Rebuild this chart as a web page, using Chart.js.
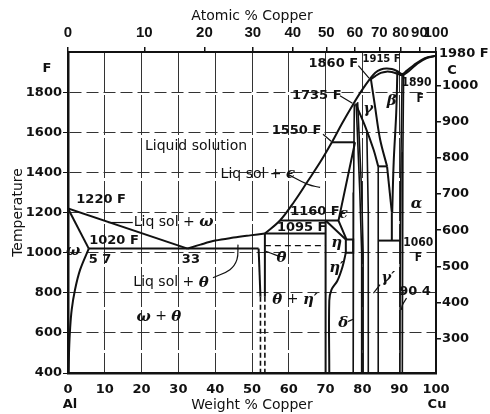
<!DOCTYPE html>
<html>
<head>
<meta charset="utf-8">
<script src="https://cdn.jsdelivr.net/npm/chart.js@4.4.0/dist/chart.umd.min.js"></script>
<style>
  html, body { margin: 0; padding: 0; background: #fff; }
  #wrap { width: 490px; height: 414px; }
</style>
</head>
<body>
<div id="wrap"><canvas id="chart" width="490" height="414"></canvas></div>
<script>
// axis ticks
const weightTicks = [0, 10, 20, 30, 40, 50, 60, 70, 80, 90, 100];
const fahrenheitTicks = [400, 600, 800, 1000, 1200, 1400, 1600, 1800];
const celsiusTicks = [300, 400, 500, 600, 700, 800, 900, 1000];
const atomicTicks = [0, 10, 20, 30, 40, 50, 60, 70, 80, 90, 100];

// phase boundaries, points are [weight % Cu, deg F]
const liquidusAl = [[0, 1220], [32.5, 1020]];
const solidusAl = [[0, 1220], [5.65, 1020]];
const solvusAl = [[5.65, 1020], [3.3, 915], [1.9, 815], [1.0, 715], [0.55, 615], [0.3, 515], [0.15, 400]];
const eutectic1020 = [[5.65, 1020], [51.8, 1020]];
const liquidusTheta = [[32.5, 1020], [36, 1040], [40, 1060], [45, 1075], [49.5, 1086], [53.5, 1095]];
const liquidusCu = [[53.5, 1095], [57.6, 1160], [61.5, 1255], [65, 1352], [68.5, 1450], [71.7, 1550], [74.5, 1645],
  [77.5, 1740], [79.7, 1805], [82, 1865], [83.5, 1897], [85, 1913], [86.5, 1918], [88, 1915], [89.5, 1904],
  [90.8, 1890], [92, 1906], [94, 1935], [96, 1960], [98, 1975], [100, 1981]];
const solidusCu = [[82, 1860], [83.5, 1880], [85, 1896], [86.5, 1902], [88, 1900], [89.5, 1892], [90.8, 1884],
  [92.5, 1903], [95, 1943], [97.5, 1970], [100, 1981]];
const thetaLeft = [[51.8, 1020], [52.3, 780]];
const thetaRight = [[53.5, 1095], [53.5, 780]];
const thetaLeftLow = [[52.3, 780], [52.3, 400]];
const thetaRightLow = [[53.5, 780], [53.5, 400]];
const dashed1035 = [[53.5, 1035], [70, 1035]];
const peritectic1095 = [[53.5, 1095], [70, 1095]];
const peritectic1160 = [[57.6, 1160], [73.5, 1160]];
const etaLeft = [[70, 1160], [70, 400]];
const etaDiag = [[70, 1160], [75.5, 1065]];
const etaPrime = [[75.5, 1000], [74.6, 930], [73.2, 860], [71.6, 815], [71, 760], [71, 400]];
const zetaBox = [[75.5, 1065], [77.5, 1065], [77.5, 1000], [75.5, 1000], [75.5, 1065]];
const peritectic1550 = [[71.7, 1550], [78, 1550]];
const epsLeft = [[78, 1550], [73.5, 1160], [75.7, 1065]];
const deltaLeft = [[77.8, 1740], [77.6, 1300], [77.5, 1065], [77.5, 400]];
const gamma2Left = [[78.3, 1745], [79.3, 1300], [79.8, 1000], [79.8, 400]];
const gamma2Right = [[78.7, 1750], [79.8, 1300], [80.2, 1000], [80.2, 400]];
const gammaInner = [[81.2, 1600], [81.6, 1200], [81.6, 400]];
const gammaSlant = [[78.2, 1740], [80.7, 1632], [83, 1515], [84.3, 1430]];
const gammaRight = [[82.3, 1866], [83.4, 1732], [84.8, 1565], [86.7, 1430]];
const eutectoid1430 = [[84.3, 1430], [86.7, 1430]];
const gammaPrimeLeft = [[84.3, 1430], [84.3, 1060], [84.3, 400]];
const betaLeft = [[86.7, 1430], [88, 1200]];
const betaRight = [[89.5, 1904], [89.2, 1700], [88.5, 1450], [88.1, 1200]];
const betaStem = [[88, 1200], [88, 1060]];
const eutectoid1060 = [[84.3, 1060], [90.5, 1060]];
const alphaLeft = [[90.8, 1888], [90.5, 1500], [90.3, 1060], [90.2, 400]];
const alphaRight = [[91.2, 1892], [91, 1500], [90.9, 1060], [90.8, 400]];

// pointer lines
const leaderEps = [[59.8, 1390], [65.2, 1340], [68.5, 1325]];
const leaderOmega = [[10.9, 1150], [17.6, 1150]];
const leaderLiqTheta = [[39.4, 875], [44, 915], [45.9, 965], [46.2, 1040]];
const leaderTheta = [[57.3, 982], [55, 998], [53.7, 1007]];
const leaderDelta = [[76.1, 657], [77.5, 668]];
const leaderGammaP = [[84.8, 840], [83, 798]];
const leader904 = [[92, 773], [90.9, 740], [90.6, 715]];
const leader1550 = [[69.3, 1590], [71.5, 1555]];
const leader1735 = [[73.9, 1782], [77.3, 1745]];
const leader1860 = [[78.9, 1932], [81.8, 1870]];

// labels inside the plot: [text, weight %, deg F, style]
const notes = [
  ['Liquid solution', 34.8, 1530, 'txt'],
  ['Liq sol + ϵ', 51.6, 1390, 'txt'],
  ['1220 F', 9.0, 1265, 'num'],
  ['Liq sol + ω', 28.7, 1150, 'txt'],
  ['1020 F', 12.5, 1058, 'num'],
  ['5 7', 8.7, 965, 'num'],
  ['ω', 1.4, 1010, 'txt'],
  ['33', 33.4, 965, 'num'],
  ['Liq sol + θ', 28, 850, 'txt'],
  ['ω + θ', 24.7, 680, 'txt'],
  ['θ', 58, 973, 'txt'],
  ['θ + η′', 61.7, 765, 'txt'],
  ['η', 73, 1048, 'txt'],
  ['η′', 73, 923, 'txt'],
  ['δ', 74.8, 648, 'txt'],
  ['γ′', 87, 875, 'txt'],
  ['90 4', 94.3, 806, 'num'],
  ['1060', 95.2, 1048, 'small'],
  ['F', 95.2, 973, 'small'],
  ['α', 94.7, 1240, 'txt'],
  ['1160 F', 67.1, 1206, 'num'],
  ['1095 F', 63.5, 1123, 'num'],
  ['ϵ', 74.8, 1190, 'txt'],
  ['1550 F', 62.1, 1607, 'num'],
  ['1735 F', 67.6, 1785, 'num'],
  ['1860 F', 72.1, 1940, 'num'],
  ['1915 F', 85.2, 1965, 'tiny'],
  ['γ', 81.6, 1715, 'txt'],
  ['β', 88, 1757, 'txt'],
  ['1890', 94.7, 1848, 'small'],
  ['F', 95.7, 1765, 'small']
];

function atomicToWeight(a) {
  return 100 * a * 63.55 / (a * 63.55 + (100 - a) * 26.98);
}

const fonts = {
  txt: '14px "DejaVu Sans"',
  num: 'bold 13px "DejaVu Sans"',
  small: 'bold 12px "DejaVu Sans Condensed", "DejaVu Sans"',
  tiny: 'bold 10px "DejaVu Sans"',
  greek: 'italic bold 15px "DejaVu Serif"'
};
const greekChars = 'ωθηδγβαϵ′';

function drawRich(ctx, str, px, py, style) {
  const runs = [];
  for (const ch of str) {
    const f = greekChars.includes(ch) ? fonts.greek : fonts[style];
    if (runs.length && runs[runs.length - 1].f === f) runs[runs.length - 1].s += ch;
    else runs.push({ s: ch, f: f });
  }
  let total = 0;
  runs.forEach(r => { ctx.font = r.f; r.w = ctx.measureText(r.s).width; total += r.w; });
  let cx = px - total / 2;
  ctx.textAlign = 'left';
  runs.forEach(r => { ctx.font = r.f; ctx.fillText(r.s, cx, py); cx += r.w; });
}

function line(data, opts) {
  return Object.assign({
    data: data.map(p => ({ x: p[0], y: p[1] })),
    borderColor: '#111',
    borderWidth: 2,
    pointRadius: 0,
    tension: 0,
    fill: false
  }, opts || {});
}

const curve = { tension: 0.35 };
const thin = { borderWidth: 1.2, tension: 0.4 };
const dashed = { borderDash: [5, 3], borderWidth: 1.6 };

const textPlugin = {
  id: 'texts',
  afterDraw(chart) {
    const { ctx, chartArea: a, scales: { x, y } } = chart;
    ctx.save();
    ctx.fillStyle = '#111';
    ctx.textBaseline = 'middle';
    notes.forEach(n => drawRich(ctx, n[0], x.getPixelForValue(n[1]), y.getPixelForValue(n[2]), n[3]));

    ctx.font = '14px "DejaVu Sans"';
    ctx.textAlign = 'center';
    ctx.fillText('Atomic % Copper', (a.left + a.right) / 2, 16);
    ctx.fillText('Weight % Copper', (a.left + a.right) / 2, 405);
    ctx.font = 'bold 13px "DejaVu Sans"';
    ctx.fillText('Al', a.left + 2, 405);
    ctx.fillText('Cu', a.right + 1, 405);
    ctx.fillText('F', a.left - 21, y.getPixelForValue(1915));
    ctx.fillText('C', a.right + 16, y.getPixelForValue(1905));
    ctx.textAlign = 'left';
    ctx.fillText('1980 F', a.right + 3, y.getPixelForValue(1990));

    ctx.translate(18, (a.top + a.bottom) / 2);
    ctx.rotate(-Math.PI / 2);
    ctx.textAlign = 'center';
    ctx.font = '14px "DejaVu Sans"';
    ctx.fillText('Temperature', 0, 0);
    ctx.restore();
  }
};

const tickFont = { family: 'DejaVu Sans', size: 13, weight: 'bold' };
const topFont = { family: 'Liberation Sans', size: 15, weight: 'bold' };
const clear = 'rgba(0,0,0,0)';
const plain = v => String(v);

new Chart(document.getElementById('chart'), {
  type: 'line',
  data: {
    datasets: [
      line(liquidusAl), line(solidusAl), line(solvusAl, curve), line(eutectic1020),
      line(liquidusTheta, curve), line(liquidusCu, curve), line(solidusCu, curve),
      line(thetaLeft), line(thetaRight), line(thetaLeftLow, dashed), line(thetaRightLow, dashed),
      line(dashed1035, { borderDash: [6, 4], borderWidth: 1.4 }),
      line(peritectic1095), line(peritectic1160), line(etaLeft), line(etaDiag),
      line(etaPrime, curve), line(zetaBox), line(peritectic1550), line(epsLeft),
      line(deltaLeft, { borderWidth: 1.6 }), line(gamma2Left, { borderWidth: 1.6 }),
      line(gamma2Right, { borderWidth: 1.6 }), line(gammaInner, { borderWidth: 1.6 }),
      line(gammaSlant, curve), line(gammaRight, curve), line(eutectoid1430), line(gammaPrimeLeft, { borderWidth: 1.6 }),
      line(betaLeft), line(betaRight, curve), line(betaStem), line(eutectoid1060),
      line(alphaLeft, { borderWidth: 1.6 }), line(alphaRight, { borderWidth: 1.6 }),
      line(leaderEps, thin), line(leaderOmega, thin), line(leaderLiqTheta, thin), line(leaderTheta, thin),
      line(leaderDelta, thin), line(leaderGammaP, thin), line(leader904, thin), line(leader1550, thin),
      line(leader1735, thin), line(leader1860, thin)
    ]
  },
  options: {
    responsive: false,
    animation: false,
    layout: { padding: 0 },
    plugins: { legend: { display: false }, tooltip: { enabled: false } },
    scales: {
      x: {
        type: 'linear', position: 'bottom', min: 0, max: 100,
        afterBuildTicks: s => { s.ticks = weightTicks.map(v => ({ value: v })); },
        afterFit: s => { s.height = 41; },
        ticks: { font: tickFont, color: '#111', padding: 9, autoSkip: false, maxRotation: 0, callback: plain },
        grid: {
          drawTicks: false,
          color: c => (c.tick && (c.tick.value === 0 || c.tick.value === 100)) ? clear : '#333',
          lineWidth: 1
        },
        border: { display: true, width: 2.5, color: '#111', dash: [40, 3] }
      },
      x2: {
        type: 'linear', position: 'top', min: 0, max: 100,
        afterBuildTicks: s => { s.ticks = atomicTicks.map(a => ({ value: atomicToWeight(a) })); },
        afterFit: s => { s.height = 52; },
        ticks: { font: topFont, color: '#111', padding: 5, autoSkip: false, maxRotation: 0,
          callback: (v, i) => String(atomicTicks[i]) },
        grid: { drawOnChartArea: false, tickLength: 5, color: '#111', lineWidth: 1.5 },
        border: { display: true, width: 2, color: '#111' }
      },
      y: {
        type: 'linear', position: 'left', min: 400, max: 2000,
        afterBuildTicks: s => { s.ticks = fahrenheitTicks.map(v => ({ value: v })); },
        afterFit: s => { s.width = 68; },
        ticks: { font: tickFont, color: '#111', padding: 1, callback: plain },
        grid: {
          tickLength: 5,
          color: c => (c.tick && c.tick.value === 400) ? clear : '#333',
          tickColor: '#111',
          lineWidth: 1
        },
        border: { display: true, width: 2.5, color: '#111', dash: [12, 5] }
      },
      y2: {
        type: 'linear', position: 'right', min: (400 - 32) / 1.8, max: (2000 - 32) / 1.8,
        afterBuildTicks: s => { s.ticks = celsiusTicks.map(v => ({ value: v })); },
        afterFit: s => { s.width = 54; },
        ticks: { font: tickFont, color: '#111', padding: 1, callback: plain },
        grid: { drawOnChartArea: false, tickLength: 5, color: '#111', lineWidth: 1.5 },
        border: { display: true, width: 2, color: '#111' }
      }
    }
  },
  plugins: [textPlugin]
});
</script>
</body>
</html>
